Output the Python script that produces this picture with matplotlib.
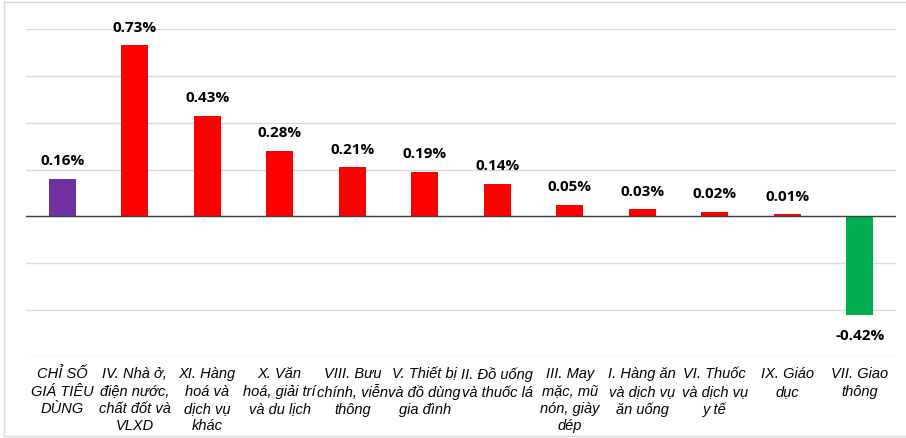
import numpy as np
import matplotlib.pyplot as plt
from matplotlib.lines import Line2D

# Category labels (line breaks as in the original chart)
categories = [
    "CHỈ SỐ\nGIÁ TIÊU\nDÙNG",
    "IV. Nhà ở,\nđiện nước,\nchất đốt và\nVLXD",
    "XI. Hàng\nhoá và\ndịch vụ\nkhác",
    "X. Văn\nhoá, giải trí\nvà du lịch",
    "VIII. Bưu\nchính, viễn\nthông",
    "V. Thiết bị\nvà đồ dùng\ngia đình",
    "II. Đồ uống\nvà thuốc lá",
    "III. May\nmặc, mũ\nnón, giày\ndép",
    "I. Hàng ăn\nvà dịch vụ\năn uống",
    "VI. Thuốc\nvà dịch vụ\ny tế",
    "IX. Giáo\ndục",
    "VII. Giao\nthông",
]
values = [0.16, 0.73, 0.43, 0.28, 0.21, 0.19, 0.14, 0.05, 0.03, 0.02, 0.01, -0.42]
bar_colors = ["#7030A0"] + ["#FF0000"] * 10 + ["#00B050"]

fig = plt.figure(figsize=(9.06, 4.38), dpi=100)
ax = fig.add_axes([26 / 906, 1 - 357 / 438, 870 / 906, 328 / 438])

x = np.arange(len(values))
ax.bar(x, values, width=0.37, color=bar_colors, zorder=3)

ax.set_xlim(-0.5, len(values) - 0.5)
ax.set_ylim(-0.6, 0.8)
ax.set_yticks(np.arange(-0.6, 0.81, 0.2))
ax.yaxis.grid(True, color="#d9d9d9", linewidth=1)
ax.set_axisbelow(True)
ax.tick_params(axis="y", left=False, labelleft=False)
ax.tick_params(axis="x", bottom=False, pad=4)
for s in ax.spines.values():
    s.set_visible(False)
ax.axhline(0, color="#404040", linewidth=1, zorder=4)

ax.set_xticks(x)
ax.set_xticklabels(categories, fontsize=10.5, fontstyle="italic",
                   family="Liberation Sans", va="top", linespacing=1.3)

# value labels
for xi, v in zip(x, values):
    off = 0.075 if v >= 0 else -0.09
    ax.text(xi, v + off, f"{v:.2f}%", ha="center", va="center",
            fontsize=11, fontweight="bold", family="Open Sans", clip_on=False)

# light frame around the picture
fc = "#d9d9d9"
fig.add_artist(Line2D([4 / 906, 4 / 906], [2 / 438, 436 / 438], color=fc, lw=1))
fig.add_artist(Line2D([4 / 906, 1], [2 / 438, 2 / 438], color=fc, lw=1))
fig.add_artist(Line2D([4 / 906, 1], [436 / 438, 436 / 438], color=fc, lw=1))

fig.savefig("out.png", dpi=100)
